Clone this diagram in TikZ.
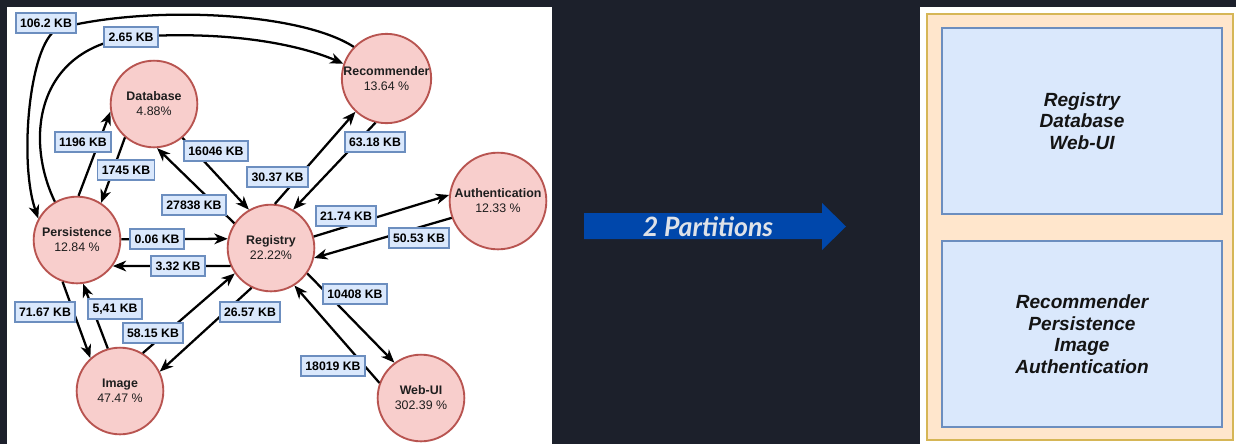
\documentclass[tikz,border=0pt]{standalone}
\usepackage{fontspec}
\setmainfont{Liberation Sans}
\newfontfamily\latofont{Lato}
\usetikzlibrary{arrows.meta}

\tikzset{every picture/.style={line width=0.75pt}}
\tikzset{
  svc/.style={circle, draw={rgb, 255:red, 184; green, 84; blue, 80 }, fill={rgb, 255:red, 248; green, 206; blue, 204 }, line width=1.4pt, minimum size=65pt, inner sep=0pt, align=center, text={rgb, 255:red, 30; green, 30; blue, 30 }, font=\fontsize{9.3}{11.3}\selectfont},
  kb/.style={draw={rgb, 255:red, 108; green, 142; blue, 191 }, fill={rgb, 255:red, 218; green, 232; blue, 252 }, line width=1.3pt, inner xsep=3.3pt, inner ysep=0pt, minimum height=14.5pt, font=\bfseries\fontsize{9.2}{11}\selectfont},
  flow/.style={line width=1.7pt, -{Stealth[length=10pt,width=8pt,inset=3pt]}},
  part/.style={draw={rgb, 255:red, 108; green, 142; blue, 191 }, fill={rgb, 255:red, 218; green, 232; blue, 252 }, line width=1pt, minimum width=210pt, minimum height=139.5pt, align=center, text={rgb, 255:red, 20; green, 20; blue, 20 }, font=\bfseries\itshape\fontsize{14.3}{16.2}\selectfont}
}

\begin{document}
\begin{tikzpicture}[x=0.75pt,y=0.75pt,yscale=-1,xscale=1]
\useasboundingbox (0,0) rectangle (1236,444);

%Shape: Rectangle (backgrounds)
\fill [color={rgb, 255:red, 28; green, 32; blue, 43 }] (0,0) rectangle (1236,444);
\fill [white] (7,7) rectangle (552,444);
\fill [white] (920,7) rectangle (1236,444);
\draw [draw={rgb, 255:red, 214; green, 182; blue, 86 }, fill={rgb, 255:red, 255; green, 230; blue, 204 }, line width=1pt] (927,14) rectangle (1233,440);

%Shape: Circle
\node [svc] (db) at (154,104) {\textbf{Database}\\4.88\%};
\node [svc] (rec) at (386.5,78.5) {\textbf{Recommender}\\13.64 \%};
\node [svc] (pers) at (77,240) {\textbf{Persistence}\\12.84 \%};
\node [svc] (reg) at (271,248) {\textbf{Registry}\\22.22\%};
\node [svc, minimum size=72.5pt] (auth) at (498,201) {\textbf{Authentication}\\12.33 \%};
\node [svc] (img) at (120,391) {\textbf{Image}\\47.47 \%};
\node [svc] (web) at (421,398) {\textbf{Web-UI}\\302.39 \%};

%Curve Lines
\draw [flow] (rec.136) .. controls (300,12) and (150,5) .. (60,28) .. controls (30,36) and (18,160) .. (pers.151);
\draw [flow] (pers.120) .. controls (25,140) and (35,50) .. (131,37) .. controls (230,30) and (300,45) .. (rec.161);

%Straight Lines
\draw [flow] (pers.88) -- (db.190);
\draw [flow] (db.229) -- (pers.57);
\draw [flow] (reg.146) -- (db.274);
\draw [flow] (db.310) -- (reg.120);
\draw [flow] (reg.85) -- (rec.227);
\draw [flow] (rec.256) -- (reg.60);
\draw [flow] (reg.15) -- (auth.173);
\draw [flow] (auth.200) -- (reg.-13);
\draw [flow] (pers.1) -- (reg.168);
\draw [flow] (reg.204) -- (pers.-36);
\draw [flow] (reg.-35) -- (web.127);
\draw [flow] (web.160) -- (reg.-58);
\draw [flow] (pers.-109) -- (img.132);
\draw [flow] (img.106) -- (pers.-82);
\draw [flow] (img.59) -- (reg.215);
\draw [flow] (reg.244) -- (img.26);

% Text Node
\node [kb] (t1062) at (46,23) {106.2 KB};
\node [kb] (t265) at (131,37) {2.65 KB};
\node [kb] (t1196) at (83,142) {1196 KB};
\node [kb] (t1745) at (126,170) {1745 KB};
\node [kb] (t27838) at (194,205) {27838 KB};
\node [kb] (t16046) at (216,151) {16046 KB};
\node [kb] (t3037) at (277.5,177) {30.37 KB};
\node [kb] (t6318) at (375,142) {63.18 KB};
\node [kb] (t2174) at (346,216) {21.74 KB};
\node [kb] (t5053) at (419,238) {50.53 KB};
\node [kb] (t006) at (157,239) {0.06 KB};
\node [kb] (t332) at (178,266) {3.32 KB};
\node [kb] (t10408) at (355,294) {10408 KB};
\node [kb] (t18019) at (333,366) {18019 KB};
\node [kb] (t7167) at (45,312) {71.67 KB};
\node [kb] (t541) at (115,309) {5,41 KB};
\node [kb] (t5815) at (153,333) {58.15 KB};
\node [kb] (t2657) at (250,312) {26.57 KB};

%Shape: Right Arrow
\fill [color={rgb, 255:red, 0; green, 71; blue, 171 }] (584,213) -- (822,213) -- (822,203) -- (846,226.5) -- (822,250) -- (822,239) -- (584,239) -- cycle;
% Text Node
\node [text={rgb, 255:red, 222; green, 226; blue, 232 }, font=\latofont\bfseries\itshape\fontsize{20}{22}\selectfont] (split) at (708,226.5) {2 Partitions};

%Shape: Rectangle (partitions)
\node [part] (partA) at (1082,121) {Registry\\Database\\Web-UI};
\node [part] (partB) at (1082,334) {Recommender\\Persistence\\Image\\Authentication};

\end{tikzpicture}
\end{document}
